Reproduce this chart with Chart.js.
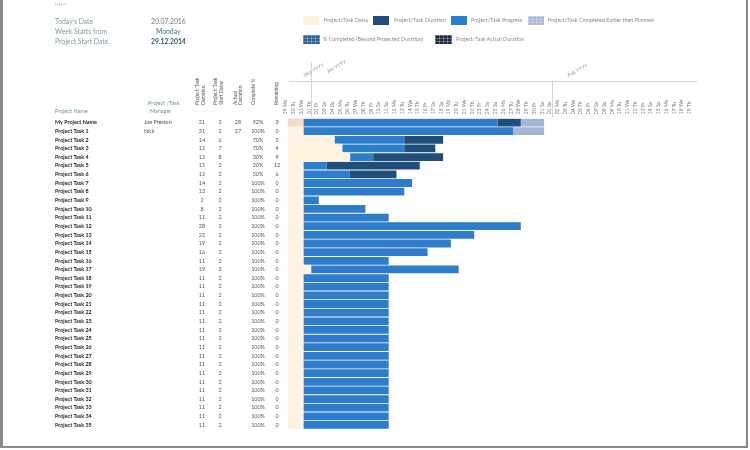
<!DOCTYPE html>
<html>
<head>
<meta charset="utf-8">
<script src="https://cdn.jsdelivr.net/npm/chart.js@4.4.0/dist/chart.umd.min.js"></script>
<style>
  html, body { margin: 0; padding: 0; background: #fff; }
  body { width: 750px; height: 450px; position: relative; overflow: hidden; font-family: Lato, "Open Sans", sans-serif; }
  #grafico { position: absolute; left: 0; top: 0; }
  .t { position: absolute; white-space: nowrap; line-height: 1; transform: translateY(-50%); }
  .info { font-size: 6.8px; color: #7f9c9c; }
  .leg { font-size: 5.4px; color: #8c8c8c; }
  .box { position: absolute; }
  .grade { background-image: linear-gradient(rgba(255,255,255,.28) 1px, transparent 1px), linear-gradient(90deg, rgba(255,255,255,.28) 1px, transparent 1px); background-size: 4px 3px; }
  #moldura { position: absolute; left: 0; top: -4px; width: 743px; height: 450px; border-left: 3px solid #8a8a8a; border-right: 2px solid #8a8a8a; border-bottom: 2px solid #8a8a8a; pointer-events: none; }
</style>
</head>
<body>
<canvas id="grafico" width="750" height="450"></canvas>

<!-- cabeçalho -->
<span class="t" style="left:55px;top:5px;font-size:4.5px;color:#9cc6c6">HELP</span>
<span class="t info" style="left:55px;top:20.5px">Today's Date</span>
<span class="t info" style="left:151px;top:20.5px;color:#6f8085">20.07.2016</span>
<span class="t info" style="left:55px;top:30.5px">Week Starts from</span>
<span class="t info" style="left:156px;top:30.5px;color:#3f7183">Monday</span>
<span class="t info" style="left:55px;top:40.5px">Project Start Date</span>
<span class="t info" style="left:151px;top:40.5px;color:#2f5868;font-weight:700">29.12.2014</span>

<!-- legenda -->
<div class="box" style="left:303px;top:16px;width:16px;height:9px;background:#fdf2dc"></div>
<span class="t leg" style="left:324px;top:20.5px">Project/Task Delay</span>
<div class="box" style="left:373px;top:16px;width:16px;height:9px;background:#1f4e7a"></div>
<span class="t leg" style="left:394px;top:20.5px">Project/Task Duration</span>
<div class="box" style="left:451px;top:16px;width:16px;height:9px;background:#2e7dcc"></div>
<span class="t leg" style="left:471px;top:20.5px">Project/Task Progress</span>
<div class="box grade" style="left:528px;top:16px;width:16px;height:9px;background-color:#a6b9da"></div>
<span class="t leg" style="left:548px;top:20.5px">Project/Task Completed Earlier then Planned</span>
<div class="box grade" style="left:303px;top:35px;width:17px;height:9px;background-color:#2c5d8f"></div>
<span class="t leg" style="left:323px;top:39.5px">% Completed (Beyond Projected Duration)</span>
<div class="box grade" style="left:435px;top:35px;width:17px;height:9px;background-color:#1c2b3d"></div>
<span class="t leg" style="left:456px;top:39.5px">Project/Task Actual Duration</span>

<div id="moldura"></div>

<script>
// dados da tabela
const tarefas = ["My Project Name"];
for (let i = 1; i <= 35; i++) tarefas.push("Project Task " + i);

const gerentes = ["Joe Preston", "Nick"];
const duracao = [31, 31, 14, 12, 12, 15, 12, 14, 13, 2, 8, 11, 28, 22, 19, 16, 11, 19,
  11, 11, 11, 11, 11, 11, 11, 11, 11, 11, 11, 11, 11, 11, 11, 11, 11, 11];
const atraso = [2, 2, 6, 7, 8, 2, 2, 2, 2, 2, 2, 2, 2, 2, 2, 2, 2, 3,
  2, 2, 2, 2, 2, 2, 2, 2, 2, 2, 2, 2, 2, 2, 2, 2, 2, 2];
const duracaoReal = [28, 27];
const completo = ["92%", "100%", "70%", "70%", "30%", "20%", "50%", "100%", "100%", "100%", "100%", "100%",
  "100%", "100%", "100%", "100%", "100%", "100%", "100%", "100%", "100%", "100%", "100%", "100%",
  "100%", "100%", "100%", "100%", "100%", "100%", "100%", "100%", "100%", "100%", "100%", "100%"];
const restante = [3, 0, 5, 4, 9, 12, 6, 0, 0, 0, 0, 0, 0, 0, 0, 0, 0, 0,
  0, 0, 0, 0, 0, 0, 0, 0, 0, 0, 0, 0, 0, 0, 0, 0, 0, 0];

// segmentos das barras (dias)
const progresso = [25, 27, 9, 8, 3, 3, 6, 14, 13, 2, 8, 11, 28, 22, 19, 16, 11, 19,
  11, 11, 11, 11, 11, 11, 11, 11, 11, 11, 11, 11, 11, 11, 11, 11, 11, 11];
const falta = [3, 0, 5, 4, 9, 12, 6, 0, 0, 0, 0, 0, 0, 0, 0, 0, 0, 0,
  0, 0, 0, 0, 0, 0, 0, 0, 0, 0, 0, 0, 0, 0, 0, 0, 0, 0];
const antecipado = [3, 4, 0, 0, 0, 0, 0, 0, 0, 0, 0, 0, 0, 0, 0, 0, 0, 0,
  0, 0, 0, 0, 0, 0, 0, 0, 0, 0, 0, 0, 0, 0, 0, 0, 0, 0];

// eixo de dias
const dias = ["29 Mo", "30 Tu", "31 We",
  "01 Th", "02 Fr", "03 Sa", "04 Su", "05 Mo", "06 Tu", "07 We", "08 Th", "09 Fr", "10 Sa",
  "11 Su", "12 Mo", "13 Tu", "14 We", "15 Th", "16 Fr", "17 Sa", "18 Su", "19 Mo", "20 Tu",
  "21 We", "22 Th", "23 Fr", "24 Sa", "25 Su", "26 Mo", "27 Tu", "28 We", "29 Th", "30 Fr", "31 Sa",
  "01 Su", "02 Mo", "03 Tu", "04 We", "05 Th", "06 Fr", "07 Sa", "08 Su", "09 Mo", "10 Tu",
  "11 We", "12 Th", "13 Fr", "14 Sa", "15 Su", "16 Mo", "17 Tu", "18 We", "19 Th"];
const meses = ["Dez YYYY", "Jan YYYY", "Feb YYYY"];
const inicioMes = [0, 3, 34];

const fonte = "Lato, 'Open Sans', sans-serif";

// desenha tabela, cabeçalhos e meses
const tabela = {
  id: "tabela",
  afterDraw(chart) {
    const ctx = chart.ctx;
    const y = chart.scales.y;
    const x = chart.scales.x;
    const area = chart.chartArea;
    ctx.save();

    // linhas dos meses
    ctx.strokeStyle = "#d4d4d4";
    ctx.lineWidth = 1;
    ctx.beginPath();
    ctx.moveTo(x.getPixelForValue(0) + 2, 81.5);
    ctx.lineTo(area.right - 2, 81.5);
    ctx.stroke();
    inicioMes.forEach((d, i) => {
      if (i === 0) return;
      const px = Math.round(x.getPixelForValue(d)) + 0.5;
      ctx.beginPath();
      ctx.moveTo(px, i === 1 ? 62 : 81);
      ctx.lineTo(px, area.top - 1);
      ctx.stroke();
    });
    ctx.fillStyle = "#8a8a8a";
    ctx.font = "5px " + fonte;
    ctx.textAlign = "left";
    ctx.textBaseline = "alphabetic";
    meses.forEach((m, i) => {
      const px = x.getPixelForValue(inicioMes[i]) + 17;
      ctx.save();
      ctx.translate(px, i === 1 ? 73 : 77);
      ctx.rotate(-0.5);
      ctx.fillText(m, 0, 0);
      ctx.restore();
    });

    // cabeçalho da tabela
    ctx.textBaseline = "middle";
    ctx.fillStyle = "#6f9399";
    ctx.font = "5.5px " + fonte;
    ctx.fillText("Project Name", 55, 111.5);
    ctx.fillText("Project /Task", 148, 103.5);
    ctx.fillText("Manager", 150, 111.5);
    ctx.fillStyle = "#555";
    ctx.font = "5px " + fonte;
    const cabecalhos = [
      ["Project/Task", 197.5], ["Duration", 203],
      ["Project/Task", 215.5], ["Start Delay", 221],
      ["Actual", 235], ["Duration", 240.5],
      ["Complete %", 253], ["Remaining", 276]
    ];
    cabecalhos.forEach(([txt, px]) => {
      ctx.save();
      ctx.translate(px, 105);
      ctx.rotate(-Math.PI / 2);
      ctx.fillText(txt, 0, 0);
      ctx.restore();
    });

    // linhas
    tarefas.forEach((nome, i) => {
      const py = y.getPixelForValue(i);
      ctx.textAlign = "left";
      ctx.font = "700 5.4px " + fonte;
      ctx.fillStyle = "#1b1b1b";
      ctx.fillText(nome, 55, py);
      ctx.font = "5.4px " + fonte;
      ctx.fillStyle = "#555";
      if (gerentes[i]) ctx.fillText(gerentes[i], 144, py);
      ctx.textAlign = "center";
      ctx.fillText(duracao[i], 202, py);
      ctx.fillText(atraso[i], 220, py);
      if (duracaoReal[i] !== undefined) ctx.fillText(duracaoReal[i], 238, py);
      ctx.fillText(completo[i], 258, py);
      ctx.fillText(restante[i], 277, py);
    });
    ctx.restore();
  }
};

const corAtraso = tarefas.map((t, i) => (i === 0 ? "#f1dccb" : "#fdf3e0"));

new Chart(document.getElementById("grafico"), {
  type: "bar",
  data: {
    labels: tarefas,
    datasets: [
      { label: "Project/Task Delay", data: atraso, backgroundColor: corAtraso, barPercentage: 1, categoryPercentage: 1 },
      { label: "Project/Task Progress", data: progresso, backgroundColor: "#2e7dcc", barPercentage: 0.9, categoryPercentage: 1 },
      { label: "Project/Task Duration", data: falta, backgroundColor: "#1f4e7a", barPercentage: 0.9, categoryPercentage: 1 },
      { label: "Project/Task Completed Earlier then Planned", data: antecipado, backgroundColor: "#a3b6d8", barPercentage: 0.9, categoryPercentage: 1 }
    ]
  },
  options: {
    indexAxis: "y",
    responsive: false,
    animation: false,
    layout: { padding: { left: 287.7, right: 50.5, top: 90, bottom: 20.7 } },
    plugins: { legend: { display: false }, tooltip: { enabled: false } },
    scales: {
      x: { type: "linear", stacked: true, min: 0, max: dias.length, display: false },
      x2: {
        type: "category",
        labels: dias,
        position: "top",
        offset: true,
        grid: { display: false, drawTicks: false },
        border: { display: false },
        ticks: { autoSkip: false, minRotation: 90, maxRotation: 90, padding: 4, color: "#7a7a7a", font: { size: 5, family: fonte } },
        afterFit: (scale) => { scale.height = 28.2; }
      },
      y: { stacked: true, display: false }
    }
  },
  plugins: [tabela]
});
</script>
</body>
</html>
